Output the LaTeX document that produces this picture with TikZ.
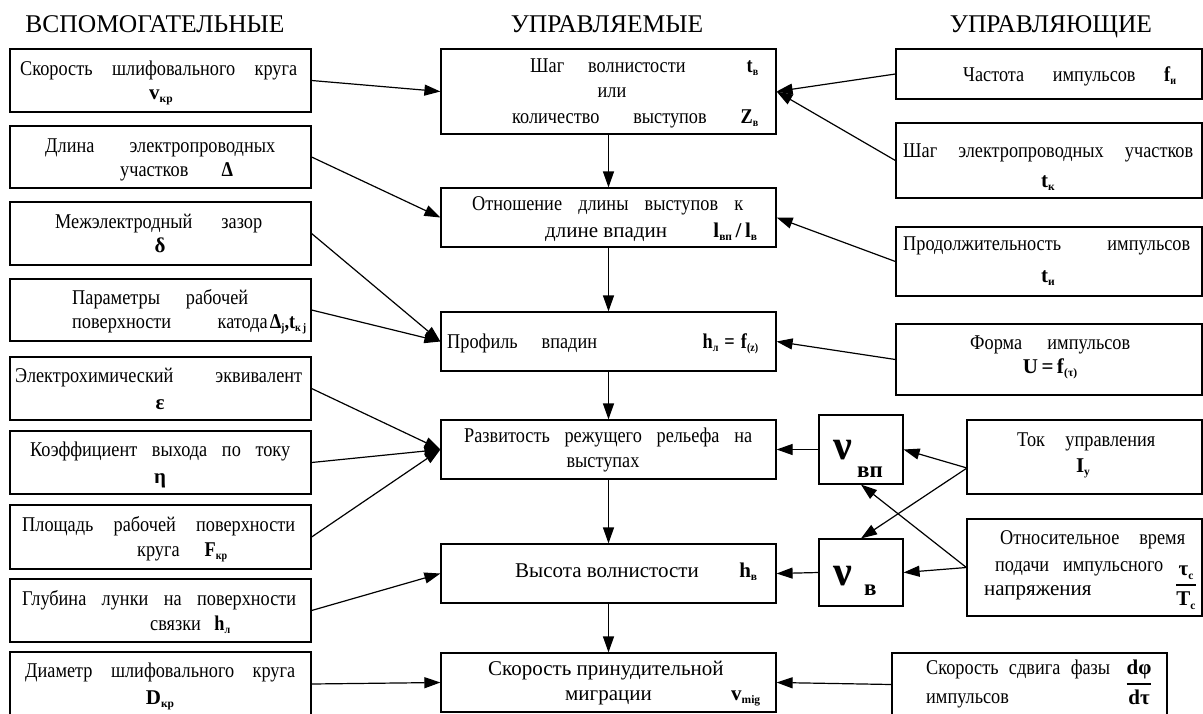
\documentclass[tikz,border=0pt]{standalone}
\usepackage{fontspec}
\usepackage{graphicx}
\setmainfont{Liberation Serif}
\newfontfamily\cnd{Liberation Serif}[FakeStretch=0.87]
\usetikzlibrary{arrows.meta}
\newcommand\lsub[1]{\raisebox{-0.4ex}{\fontsize{11.5}{12}\selectfont\bfseries #1}}
\newsavebox\jlbox
\newcommand\jl[2]{\sbox\jlbox{#2}\ifdim\wd\jlbox>#1pt\relax\resizebox{#1pt}{\height}{\usebox\jlbox}\else\makebox[#1pt][s]{#2}\fi}
\newcommand\boxnode[5]{\node[box,minimum width={(#4)-(#2)},minimum height={(#5)-(#3)}] (#1) at ({((#2)+(#4))/2},{((#3)+(#5))/2}) {};}
\newcommand\fracbox[2]{{\setlength\arrayrulewidth{1.2pt}\renewcommand\arraystretch{1.15}\begin{tabular}{@{}c@{}}\bfseries #1\\\hline\bfseries #2\end{tabular}}}
\begin{document}
\begin{tikzpicture}[x=1pt,y=-1pt,
  box/.style={draw, line width=1.2pt, inner sep=0pt},
  txt/.style={anchor=base west, inner sep=0pt, font=\cnd\fontsize{21}{25}\selectfont},
  ntxt/.style={anchor=base west, inner sep=0pt, font=\fontsize{21}{25}\selectfont},
  ctxt/.style={anchor=base, inner sep=0pt, font=\fontsize{21}{25}\selectfont},
  hdr/.style={anchor=base, inner sep=0pt, font=\fontsize{25.5}{30}\selectfont},
  nubig/.style={anchor=base west, inner sep=0pt, font=\fontsize{42}{44}\selectfont\bfseries},
  nusub/.style={anchor=base west, inner sep=0pt, font=\fontsize{23}{25}\selectfont\bfseries},
  arr/.style={-{Triangle[length=16pt,width=11pt]}, line width=1.2pt},
]
\useasboundingbox (0,0) rectangle (1203,713);
\fill[white] (0,0) rectangle (1203,713);

% headers
\node[hdr] (h1) at (155,32.5) {ВСПОМОГАТЕЛЬНЫЕ};
\node[hdr] (h2) at (607,32.5) {УПРАВЛЯЕМЫЕ};
\node[hdr] (h3) at (1051,32.5) {УПРАВЛЯЮЩИЕ};

% boxes
\boxnode{L1}{10}{49}{311}{112}
\boxnode{L2}{10}{126}{311}{188}
\boxnode{L3}{10}{202}{311}{265}
\boxnode{L4}{10}{279}{311}{341}
\boxnode{L5}{10}{357}{311}{420}
\boxnode{L6}{10}{431}{311}{494}
\boxnode{L7}{10}{505}{311}{569}
\boxnode{L8}{10}{579}{311}{642}
\boxnode{L9}{10}{652}{311}{716}
\boxnode{M1}{441}{49}{776}{134}
\boxnode{M2}{441}{188}{776}{247}
\boxnode{M3}{441}{312}{776}{371}
\boxnode{M4}{441}{420}{776}{479}
\boxnode{M5}{441}{544}{776}{603}
\boxnode{M6}{441}{653}{776}{712}
\boxnode{R1}{896}{49}{1202}{99}
\boxnode{R2}{896}{123}{1202}{198}
\boxnode{R3}{896}{227}{1202}{296}
\boxnode{R4}{896}{324}{1202}{395}
\boxnode{R5}{967}{420}{1202}{494}
\boxnode{R6}{967}{519}{1202}{616}
\boxnode{R7}{892}{653}{1167}{716}
\boxnode{NVP}{819}{415}{903}{484}
\boxnode{NV}{819}{539}{903}{606}

% left texts
\node[txt] (t1a) at (20,75) {\jl{277}{Скорость шлифовального круга}};
\node[ctxt] (t1b) at (161,99) {\textbf{v}\lsub{кр}};
\node[txt] (t2a) at (45,152) {\jl{230}{Длина электропроводных}};
\node[txt] (t2b) at (120,176) {\jl{113}{участков \textbf{Δ}}};
\node[txt] (t3a) at (55,228) {\jl{207}{Межэлектродный зазор}};
\node[ctxt] (t3b) at (160,252) {\textbf{δ}};
\node[txt] (t4a) at (72,304) {\jl{176}{Параметры рабочей}};
\node[txt] (t4b) at (72,328) {\jl{234}{поверхности\hfill катода\hspace{2pt}\textbf{Δ}\lsub{j}\textbf{,t}\lsub{к\,j}}};
\node[txt] (t5a) at (15,382) {\jl{287}{Электрохимический эквивалент}};
\node[ctxt] (t5b) at (160,409) {\textbf{ε}};
\node[txt] (t6a) at (30,456) {\jl{260}{Коэффициент выхода по току}};
\node[ctxt] (t6b) at (160,483) {\textbf{η}};
\node[txt] (t7a) at (22,531) {\jl{273}{Площадь рабочей поверхности}};
\node[txt] (t7b) at (137,556) {\jl{90}{круга \textbf{F}\lsub{кр}}};
\node[txt] (t8a) at (22,605) {\jl{274}{Глубина лунки на поверхности}};
\node[txt] (t8b) at (150,630) {\jl{80}{связки \textbf{h}\lsub{л}}};
\node[txt] (t9a) at (25,677) {\jl{270}{Диаметр шлифовального круга}};
\node[ctxt] (t9b) at (160,704) {\textbf{D}\lsub{кр}};

% middle texts
\node[txt] (m1a) at (530,72) {\makebox[228pt][l]{Шаг\hspace{24pt}волнистости\hfill\textbf{t}\lsub{в}}};
\node[ctxt] (m1b) at (612,97) {\cnd или};
\node[txt] (m1c) at (512,123) {\makebox[246pt][l]{количество\hfill выступов\hfill\textbf{Z}\lsub{в}}};
\node[txt] (m2a) at (472,210) {\jl{271}{Отношение длины выступов к}};
\node[ntxt] (m2b) at (545,237) {\makebox[212pt][l]{длине впадин\hfill\textbf{l}\lsub{вп}\,\textbf{/}\,\textbf{l}\lsub{в}}};
\node[txt] (m3a) at (447,348) {\makebox[311pt][l]{Профиль\hspace{24pt}впадин\hfill\textbf{h}\lsub{л}\hspace{6pt}\textbf{=}\hspace{6pt}\textbf{f}\lsub{(z)}}};
\node[txt] (m4a) at (464,442) {\jl{288}{Развитость режущего рельефа на}};
\node[ctxt] (m4b) at (603,467) {\cnd выступах};
\node[ntxt] (m5a) at (515,577) {\makebox[242pt][l]{Высота волнистости\hfill\textbf{h}\lsub{в}}};
\node[ntxt] (m6a) at (488,675) {Скорость принудительной};
\node[ntxt] (m6b) at (565,700) {\makebox[195pt][l]{миграции\hfill\textbf{v}\lsub{mig}}};

% right texts
\node[txt] (r1a) at (963,81) {\makebox[213pt][l]{Частота\hfill импульсов\hfill\textbf{f}\lsub{и}}};
\node[txt] (r2a) at (903,157) {\jl{290}{Шаг электропроводных участков}};
\node[ctxt] (r2b) at (1048,187) {\textbf{t}\lsub{к}};
\node[txt] (r3a) at (903,250) {\jl{287}{Продолжительность импульсов}};
\node[ctxt] (r3b) at (1048,282) {\textbf{t}\lsub{и}};
\node[txt] (r4a) at (970,349) {\jl{160}{Форма импульсов}};
\node[ctxt] (r4b) at (1050,373) {\textbf{U\,=\,f}\lsub{(τ)}};
\node[txt] (r5a) at (1017,446) {\jl{138}{Ток управления}};
\node[ctxt] (r5b) at (1083,472) {\textbf{I}\lsub{у}};
\node[txt] (r6a) at (1000,544) {\jl{185}{Относительное время}};
\node[txt] (r6b) at (995,571) {\jl{168}{подачи импульсного}};
\node[ntxt] (r6c) at (984,595) {напряжения};
\node[inner sep=0pt, font=\fontsize{21}{25}\selectfont] (r6f) at (1186,585) {\fracbox{τ\lsub{c}}{T\lsub{c}}};
\node[txt] (r7a) at (926,674) {\jl{184}{Скорость сдвига фазы}};
\node[txt] (r7b) at (926,703) {импульсов};
\node[inner sep=0pt, font=\fontsize{21}{25}\selectfont] (r7f) at (1139,684) {\fracbox{dφ}{dτ}};

% nu boxes text
\node[nubig] (nvp1) at (833,459) {ν};
\node[nusub] (nvp2) at (857,477) {вп};
\node[nubig] (nv1) at (833,585) {ν};
\node[nusub] (nv2) at (864,595) {в};

% connectors left -> middle
\draw[arr] (L1.east) -- (M1.west);
\draw[arr] (L2.east) -- (M2.west);
\draw[arr] (L3.east) -- (M3.west);
\draw[arr] (L4.east) -- (M3.west);
\draw[arr] (L5.east) -- (M4.west);
\draw[arr] (L6.east) -- (M4.west);
\draw[arr] (L7.east) -- (M4.west);
\draw[arr] (L8.east) -- (M5.west);
\draw[arr] (L9.east) -- (M6.west);
% right -> middle
\draw[arr] (R1.west) -- (M1.east);
\draw[arr] (R2.west) -- (M1.east);
\draw[arr] (R3.west) -- (M2.east);
\draw[arr] (R4.west) -- (M3.east);
\draw[arr] (NVP.west) -- (M4.east);
\draw[arr] (NV.west) -- (M5.east);
\draw[arr] (R7.west) -- (M6.east);
\coordinate (r5p) at (967,468);
\draw[arr] (r5p) -- (NVP.east);
\draw[arr] (r5p) -- (NV.north);
\draw[arr] (R6.west) -- (NV.east);
\draw[arr] (R6.west) -- (NVP.south);
% vertical chain
\draw[arr] (M1.south) -- (M2.north);
\draw[arr] (M2.south) -- (M3.north);
\draw[arr] (M3.south) -- (M4.north);
\draw[arr] (M4.south) -- (M5.north);
\draw[arr] (M5.south) -- (M6.north);
\end{tikzpicture}
\end{document}
